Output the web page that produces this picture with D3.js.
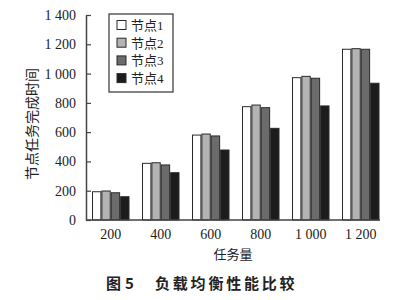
<!DOCTYPE html>
<html>
<head>
<meta charset="utf-8">
<script src="https://cdn.jsdelivr.net/npm/d3@7"></script>
<style>
  body { margin: 0; background: #fff; }
  text { font-family: "Liberation Serif", "Noto Sans CJK SC", serif; fill: #222; }
</style>
</head>
<body>
<script>
let width = 405;
let height = 300;

let categories = ['200', '400', '600', '800', '1 000', '1 200'];
let seriesNames = ['节点1', '节点2', '节点3', '节点4'];
let node1 = [193, 387, 580, 774, 972, 1166];
let node2 = [198, 391, 587, 785, 981, 1170];
let node3 = [186, 376, 574, 767, 968, 1166];
let node4 = [159, 323, 478, 626, 779, 934];
let yTicks = [0, 200, 400, 600, 800, 1000, 1200, 1400];
let colors = ['#ffffff', '#b3b3b3', '#6b6b6b', '#1c1c1c'];

let series = [node1, node2, node3, node4];

let plotLeft = 86, plotRight = 380, plotTop = 15, plotBottom = 220;

let svg = d3.select('body').append('svg')
            .attr('width', width)
            .attr('height', height);

let x0 = d3.scaleBand()
            .domain(categories)
            .range([plotLeft, plotLeft + 299.5])
            .paddingInner(0.25)
            .paddingOuter(0.12);

let x1 = d3.scaleBand()
            .domain(d3.range(seriesNames.length))
            .range([0, x0.bandwidth()]);

let yScale = d3.scaleLinear()
                .domain([0, 1400])
                .range([plotBottom, plotTop]);

// bars
let groups = svg.append('g')
                .selectAll('g')
                .data(categories)
                .enter()
                .append('g')
                .attr('transform', function(d) { return 'translate(' + x0(d) + ',0)'; });

groups.selectAll('rect')
    .data(function(d, i) { return series.map(function(s, j) { return { k: j, v: s[i] }; }); })
    .enter()
    .append('rect')
    .attr('x', function(d) { return x1(d.k) + 0.5; })
    .attr('y', function(d) { return yScale(d.v); })
    .attr('width', x1.bandwidth() - 1)
    .attr('height', function(d) { return plotBottom - yScale(d.v); })
    .attr('fill', function(d) { return colors[d.k]; })
    .attr('stroke', '#2a2a2a')
    .attr('stroke-width', 1);

// y axis
let yAxis = svg.append('g')
                .attr('transform', 'translate(' + plotLeft + ',0)')
                .call(d3.axisLeft(yScale)
                    .tickValues(yTicks)
                    .tickSizeInner(-5)
                    .tickSizeOuter(0)
                    .tickPadding(10)
                    .tickFormat(function(d) { return d >= 1000 ? d3.format(',')(d).replace(',', ' ') : d; }));

yAxis.select('.domain').attr('stroke', '#444').attr('stroke-width', 1.5);
yAxis.selectAll('line').attr('stroke', '#444').attr('stroke-width', 1.2);
yAxis.selectAll('text').style('font-size', '14px').attr('fill', '#222');

// x axis
let xAxis = svg.append('g')
                .attr('transform', 'translate(0,' + plotBottom + ')')
                .call(d3.axisBottom(x0).tickSize(0).tickPadding(9));

xAxis.select('.domain').remove();
xAxis.append('line')
    .attr('x1', plotLeft)
    .attr('x2', plotRight)
    .attr('stroke', '#444')
    .attr('stroke-width', 1.5);
xAxis.selectAll('text').style('font-size', '14px').attr('fill', '#222');

// axis titles
svg.append('text')
    .attr('x', (plotLeft + plotRight) / 2)
    .attr('y', 259)
    .attr('text-anchor', 'middle')
    .style('font-size', '13px')
    .text('任务量');

svg.append('text')
    .attr('transform', 'translate(37,124) rotate(-90)')
    .attr('text-anchor', 'middle')
    .style('font-size', '14px')
    .text('节点任务完成时间');

// legend
let legend = svg.append('g').attr('transform', 'translate(109,14)');

legend.append('rect')
    .attr('width', 64)
    .attr('height', 78)
    .attr('fill', '#fff')
    .attr('stroke', '#333')
    .attr('stroke-width', 1.2);

let items = legend.selectAll('g.item')
                .data(seriesNames)
                .enter()
                .append('g')
                .attr('class', 'item')
                .attr('transform', function(d, i) { return 'translate(8,' + (11 + i * 17.7) + ')'; });

items.append('rect')
    .attr('x', 0)
    .attr('y', -4.5)
    .attr('width', 9)
    .attr('height', 9)
    .attr('fill', function(d, i) { return colors[i]; })
    .attr('stroke', '#2a2a2a')
    .attr('stroke-width', 1);

items.append('text')
    .attr('x', 14)
    .attr('y', 5)
    .style('font-size', '13px')
    .text(function(d) { return d; });

// caption
let caption = svg.append('text')
    .attr('y', 289)
    .style('font-size', '15px')
    .style('font-weight', 'bold')
    .style('font-family', '"Noto Sans CJK SC", sans-serif')
    .attr('fill', '#333');

caption.append('tspan').attr('x', 106).text('图');
caption.append('tspan').attr('x', 125).text('5');
caption.append('tspan')
    .attr('x', 155)
    .style('letter-spacing', '2.8px')
    .text('负载均衡性能比较');
</script>
</body>
</html>
